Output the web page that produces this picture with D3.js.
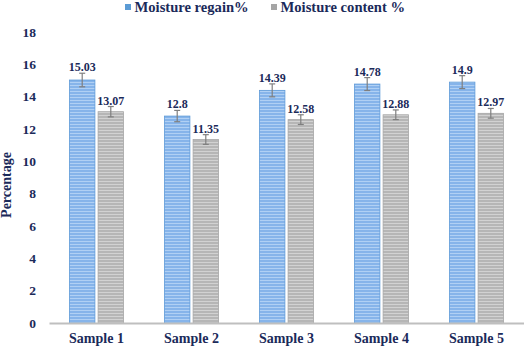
<!DOCTYPE html>
<html><head><meta charset="utf-8">
<script src="https://cdn.jsdelivr.net/npm/d3@7"></script>
<style>body{margin:0;background:#fff}svg{display:block}</style>
</head><body>
<script>
const categories = ["Sample 1","Sample 2","Sample 3","Sample 4","Sample 5"];
const seriesNames = ["Moisture regain%","Moisture content %"];
const regain = [15.03, 12.8, 14.39, 14.78, 14.9];
const content = [13.07, 11.35, 12.58, 12.88, 12.97];
const regainErr = [0.42, 0.35, 0.4, 0.4, 0.4];
const contentErr = [0.32, 0.3, 0.3, 0.3, 0.3];
const yTicks = [0,2,4,6,8,10,12,14,16,18];

const W=524,H=348;
const svg=d3.select("body").append("svg").attr("width",W).attr("height",H);
const navy="#1b2a5a";
const font="Liberation Serif";
function txt(sel,size){return sel.style("font-family",font).style("font-weight","bold").style("font-size",size+"px").attr("fill",navy);}
const defs=svg.append("defs");
function pat(id,base,line){
  const p=defs.append("pattern").attr("id",id).attr("patternUnits","userSpaceOnUse").attr("width",4).attr("height",3);
  p.append("rect").attr("width",4).attr("height",3).attr("fill",base);
  p.append("rect").attr("y",1).attr("width",4).attr("height",1).attr("fill",line);
}
pat("pb","#86b4ea","#b0d0f4");
pat("pg","#b6b6b6","#d2d2d2");
const fills=["url(#pb)","url(#pg)"];
const edges=["#5e9ad8","#a6a6a6"];
const legendCol=["#5b9bd5","#a5a5a5"];

const x=d3.scaleBand().domain(categories).range([49,524]).paddingInner(0).paddingOuter(0);
const y=d3.scaleLinear().domain([0,18]).range([323,32]);
const xs=d3.scaleBand().domain([0,1]).range([0,54]).paddingInner(6/54);
const off=(95-54)/2;

// y tick labels
txt(svg.append("g").selectAll("text").data(yTicks).join("text")
  .attr("x",36).attr("y",d=>y(d)).attr("dy","0.35em").attr("text-anchor","end").text(d=>d),13.5);

const data=[regain,content], errs=[regainErr,contentErr];
categories.forEach((c,i)=>{
  [0,1].forEach(s=>{
    const v=data[s][i], e=errs[s][i];
    const bx=x(c)+off+xs(s), bw=xs.bandwidth();
    svg.append("rect").attr("x",bx).attr("y",y(v)).attr("width",bw).attr("height",y(0)-y(v))
      .attr("fill",fills[s]).attr("stroke",edges[s]).attr("stroke-width",0.8);
    const cx=bx+bw/2;
    const g=svg.append("g").attr("stroke","#7f7f7f").attr("stroke-width",1.2);
    g.append("line").attr("x1",cx).attr("x2",cx).attr("y1",y(v+e)).attr("y2",y(v-e));
    g.append("line").attr("x1",cx-3).attr("x2",cx+3).attr("y1",y(v+e)).attr("y2",y(v+e));
    g.append("line").attr("x1",cx-3).attr("x2",cx+3).attr("y1",y(v-e)).attr("y2",y(v-e));
    txt(svg.append("text").attr("x",cx).attr("y",y(v+e)-2).attr("text-anchor","middle").text(v),12);
  });
});

// x axis
const xa=svg.append("g").attr("transform","translate(0,323)").call(d3.axisBottom(x).tickSize(0).tickPadding(10.5));
xa.select(".domain").attr("stroke","#bfbfbf").attr("stroke-width",2);
txt(xa.selectAll("text"),14);

// y label
txt(svg.append("text").attr("transform","translate(10.5,185) rotate(-90)").attr("text-anchor","middle").text("Percentage"),14);

// legend
const lx=[125,271];
seriesNames.forEach((n,i)=>{
  svg.append("rect").attr("x",lx[i]).attr("y",4).attr("width",6).attr("height",6).attr("fill",legendCol[i]);
  txt(svg.append("text").attr("x",lx[i]+9.5).attr("y",12).text(n),14.6);
});
</script>
</body></html>
